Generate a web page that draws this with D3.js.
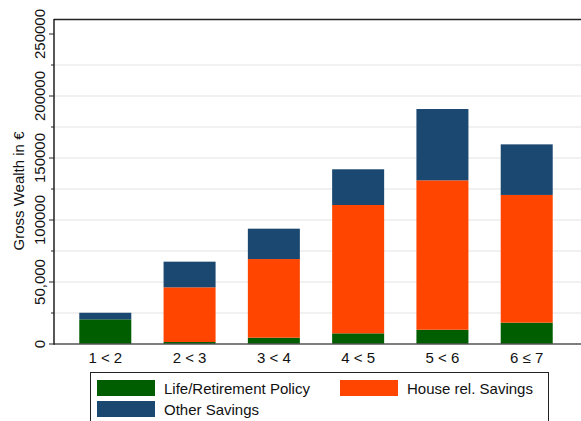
<!DOCTYPE html>
<html>
<head>
<meta charset="utf-8">
<script src="https://cdn.jsdelivr.net/npm/d3@7"></script>
<style>
  body { margin: 0; background: #fff; }
  svg { display: block; font-family: "Liberation Sans", Arial, sans-serif; }
</style>
</head>
<body>
<div id="chart"></div>
<script>
// data
const categories = ["1 < 2", "2 < 3", "3 < 4", "4 < 5", "5 < 6", "6 \u2264 7"];
const lifePolicy = [19900, 1600, 5100, 8600, 11500, 17200];
const houseSavings = [0, 44100, 63400, 103500, 120500, 103000];
const otherSavings = [5300, 20700, 24500, 28800, 57500, 40800];
const seriesNames = ["Life/Retirement Policy", "House rel. Savings", "Other Savings"];
const seriesColors = ["#005e00", "#ff4500", "#1b4870"];
const yTicks = [0, 50000, 100000, 150000, 200000, 250000];
const yTickLabels = ["0", "50,000", "100000", "150000", "200000", "250000"];
const yMinor = [25000, 75000, 125000, 175000, 225000];

const Width = 581, Height = 421;
const margin = { Top: 19, Left: 54, Bottom: 344 };

const svg = d3.select("#chart")
  .append("svg")
    .attr("width", Width)
    .attr("height", Height);

// scales
const xScale = d3.scaleBand()
  .domain(categories)
  .range([margin.Left, 578])
  .paddingInner(0.383)
  .paddingOuter(0.3);

const yScale = d3.scaleLinear()
  .domain([0, 250000])
  .range([margin.Bottom, 34]);

// gridlines
svg.append("g")
  .selectAll("line")
  .data(yMinor.concat(yTicks.slice(1, -1)))
  .join("line")
    .attr("x1", margin.Left)
    .attr("x2", Width)
    .attr("y1", d => yScale(d))
    .attr("y2", d => yScale(d))
    .attr("stroke", "#e3e3e3")
    .attr("stroke-width", 1.2);

// stacked bars
const rows = categories.map((c, i) => ({
  cat: c, life: lifePolicy[i], house: houseSavings[i], other: otherSavings[i]
}));
const stack = d3.stack().keys(["life", "house", "other"])(rows);

svg.append("g")
  .selectAll("g")
  .data(stack)
  .join("g")
    .attr("fill", (d, i) => seriesColors[i])
  .selectAll("rect")
  .data(d => d.filter(p => p[1] > p[0]))
  .join("rect")
    .attr("x", d => xScale(d.data.cat))
    .attr("width", xScale.bandwidth())
    .attr("y", d => yScale(d[1]))
    .attr("height", d => yScale(d[0]) - yScale(d[1]));

// frame: top line and axes
svg.append("line")
  .attr("x1", margin.Left).attr("x2", Width + 5)
  .attr("y1", margin.Top + 0.5).attr("y2", margin.Top + 0.5)
  .attr("stroke", "#222").attr("stroke-width", 1.3);

svg.append("line")
  .attr("x1", margin.Left).attr("x2", Width + 5)
  .attr("y1", margin.Bottom).attr("y2", margin.Bottom)
  .attr("stroke", "#555").attr("stroke-width", 1.5);

svg.append("line")
  .attr("x1", margin.Left).attr("x2", margin.Left)
  .attr("y1", margin.Top).attr("y2", margin.Bottom + 0.7)
  .attr("stroke", "#111").attr("stroke-width", 1.4);

// y axis ticks
const yAxis = svg.append("g").attr("transform", `translate(${margin.Left}, 0)`);
yAxis.selectAll("line.minor")
  .data(yMinor)
  .join("line")
    .attr("class", "minor")
    .attr("x1", -3).attr("x2", 0)
    .attr("y1", d => yScale(d)).attr("y2", d => yScale(d))
    .attr("stroke", "#222");
yAxis.selectAll("line.major")
  .data(yTicks)
  .join("line")
    .attr("class", "major")
    .attr("x1", -5).attr("x2", 0)
    .attr("y1", d => yScale(d)).attr("y2", d => yScale(d))
    .attr("stroke", "#222");
yAxis.selectAll("text")
  .data(yTicks)
  .join("text")
    .attr("transform", d => `translate(-9, ${yScale(d)}) rotate(-90)`)
    .attr("text-anchor", "middle")
    .attr("font-size", 15)
    .attr("fill", "#111")
    .text((d, i) => yTickLabels[i]);

// y axis title
svg.append("text")
  .attr("transform", `translate(24, ${(yScale(0) + yScale(250000)) / 2 + 2}) rotate(-90)`)
  .attr("text-anchor", "middle")
  .attr("font-size", 15)
  .attr("fill", "#111")
  .text("Gross Wealth in \u20AC");

// x labels
svg.append("g")
  .selectAll("text")
  .data(categories)
  .join("text")
    .attr("x", d => xScale(d) + xScale.bandwidth() / 2)
    .attr("y", 363)
    .attr("text-anchor", "middle")
    .attr("font-size", 15)
    .attr("fill", "#111")
    .text(d => d);

// legend
const legend = svg.append("g");
legend.append("rect")
  .attr("x", 90.5).attr("y", 372.5)
  .attr("width", 458).attr("height", 60)
  .attr("fill", "#fff")
  .attr("stroke", "#222");

const legendPos = [[97, 380], [340, 380], [97, 401]];
const item = legend.selectAll("g.item")
  .data(seriesNames)
  .join("g")
    .attr("class", "item")
    .attr("transform", (d, i) => `translate(${legendPos[i][0]}, ${legendPos[i][1]})`);
item.append("rect")
  .attr("width", 58).attr("height", 16)
  .attr("fill", (d, i) => seriesColors[i]);
item.append("text")
  .attr("x", 67).attr("y", 14)
  .attr("font-size", 15)
  .attr("fill", "#111")
  .text(d => d);
</script>
</body>
</html>
